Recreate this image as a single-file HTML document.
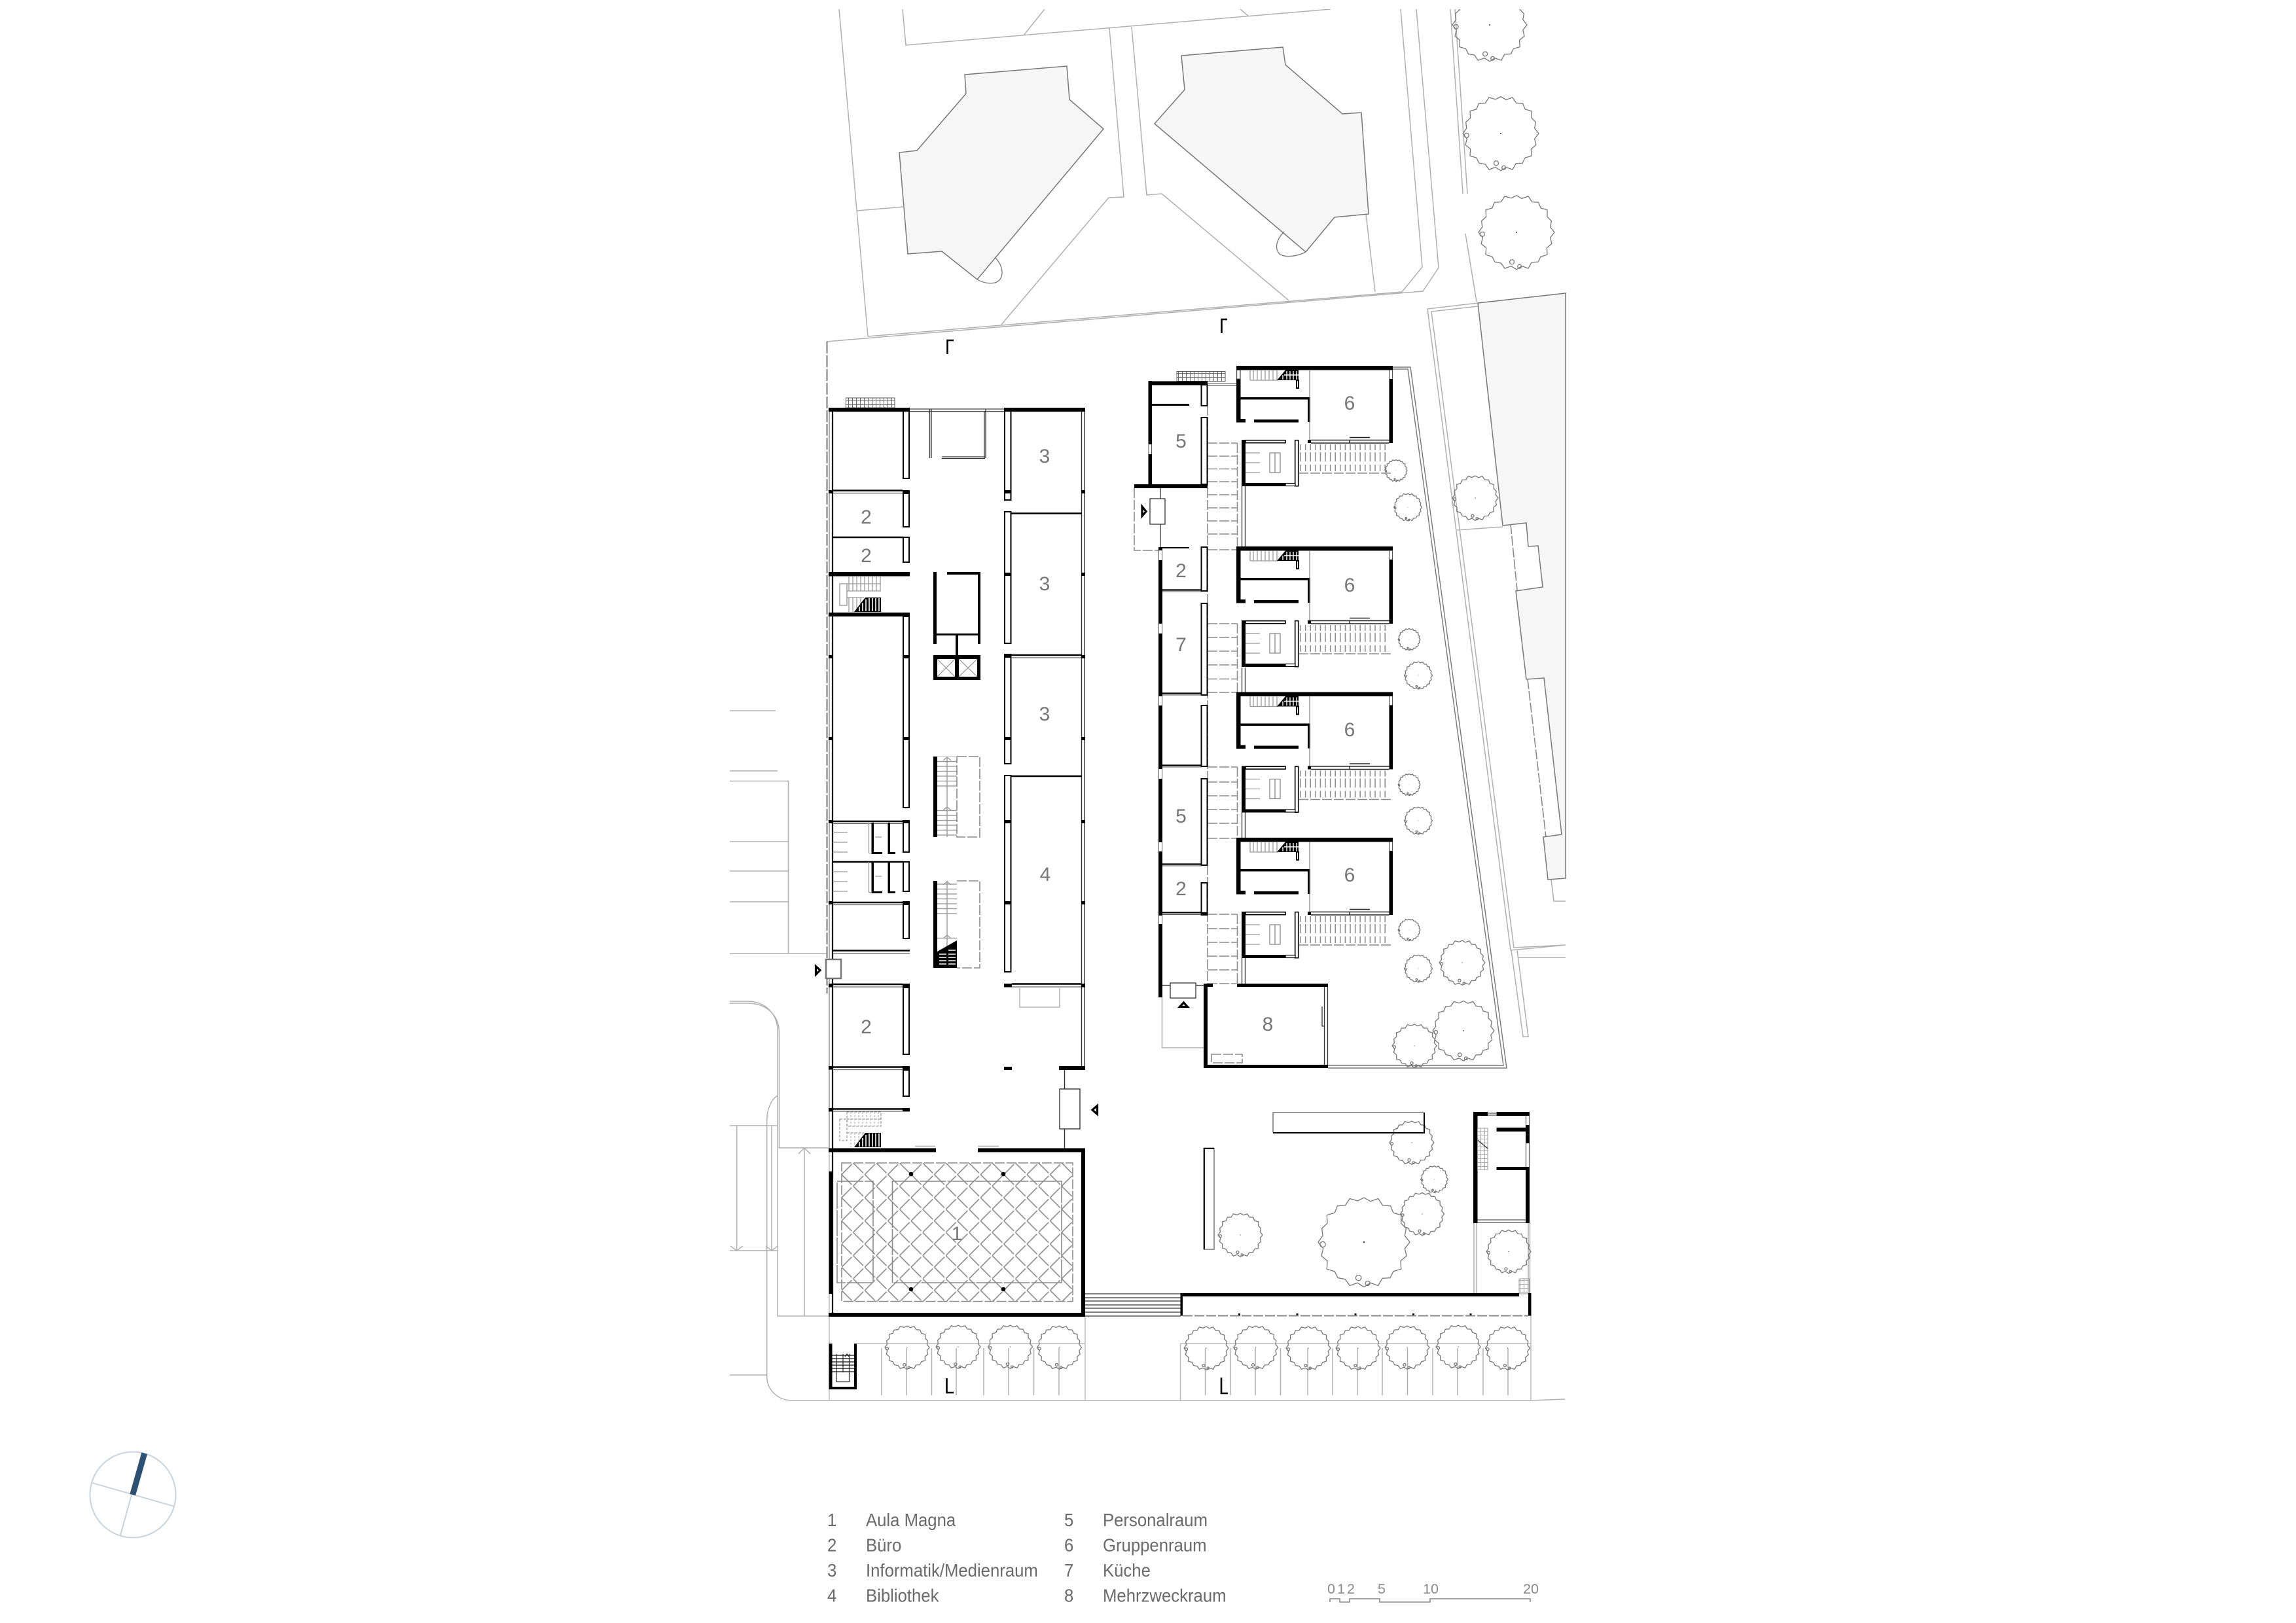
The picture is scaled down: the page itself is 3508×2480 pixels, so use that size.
<!DOCTYPE html>
<html lang="de"><head><meta charset="utf-8"><title>Grundriss</title>
<style>
html,body{margin:0;padding:0;background:#fff}
svg{display:block}
text{font-family:"Liberation Sans",sans-serif}
.l{fill:none;stroke:#b0b0b0;stroke-width:1.5}
.d{fill:none;stroke:#777;stroke-width:1.5}
.ds{fill:none;stroke:#8a8a8a;stroke-width:1.6;stroke-dasharray:15 3}
.b{fill:#fff;stroke:#000;stroke-width:2}
.n{fill:#777;font-size:30px;text-anchor:middle}
.lg{fill:#6a6a6a;font-size:27.5px}
.sc{fill:#8a8a8a;font-size:21.5px;text-anchor:middle}
.tr{fill:none;stroke:#777;stroke-width:1.3;stroke-linejoin:round}
</style></head><body>
<svg xmlns="http://www.w3.org/2000/svg" width="3508" height="2480" viewBox="0 0 3508 2480">
<defs>
<pattern id="v6" width="6" height="10" patternUnits="userSpaceOnUse"><path d="M1 0V10" stroke="#999" stroke-width="1.3"/></pattern>
<pattern id="h8" width="10" height="7.5" patternUnits="userSpaceOnUse"><path d="M0 1H10" stroke="#999" stroke-width="1.4"/></pattern>
<pattern id="h5" width="10" height="5" patternUnits="userSpaceOnUse"><path d="M0 1H10" stroke="#000" stroke-width="1.2"/></pattern>
<pattern id="v76" width="7.6" height="10" x="1984" patternUnits="userSpaceOnUse"><path d="M3 0V10" stroke="#888" stroke-width="1.5"/></pattern>
<pattern id="gr" width="6" height="6" patternUnits="userSpaceOnUse"><path d="M0 .5H6M.5 0V6" stroke="#666" stroke-width="1" fill="none"/></pattern>
<pattern id="gg" width="6" height="6" patternUnits="userSpaceOnUse"><path d="M0 .5H6M.5 0V6" stroke="#aaa" stroke-width="1" fill="none"/></pattern>
<pattern id="lat" x="1303.5" y="1777" width="35.4" height="35.4" patternUnits="userSpaceOnUse"><path d="M0 0L35.4 35.4M0 35.4L35.4 0" stroke="#8a8a8a" stroke-width="1.6" fill="none" stroke-dasharray="22 3"/></pattern>
<g id="t"><path class="tr" vector-effect="non-scaling-stroke" d="M100 0L89 14 93 30 80 41 81 59 64 64 57 78 40 79 31 95 14 89 0 98-14 89-31 95-41 81-57 78-64 64-81 59-80 41-93 30-89 14-100 0-90-14-92-30-80-41-81-59-64-64-58-79-41-80-31-95-14-90 0-97 14-89 31-95 41-80 58-79 64-64 81-59 81-41 92-30 89-14Z"/><circle class="tr" vector-effect="non-scaling-stroke" cx="-12" cy="78" r="6"/><circle class="tr" vector-effect="non-scaling-stroke" cx="8" cy="90" r="5"/><circle class="tr" vector-effect="non-scaling-stroke" cx="-90" cy="5" r="6"/><circle r="2" fill="#555"/></g>

<g id="stb">
<path d="M1305 935L1322 913H1346V935Z" fill="#000"/>
<path d="M1323 916V934M1328 914V934M1333 914V934M1338 914V934M1343 914V934M1318 921V934M1313 927V934" stroke="#fff" stroke-width="1.600"/>
</g>

<g id="u">
<path fill="#000" d="M1889 559h239v6.5h-239zM1889 559h6.5v86h-6.5zM1889 640h14v5.500h-14zM2122.500 579h5.500v98h-5.500zM1895 607h107v3.500h-107zM1998 607h4v38h-4zM1916 641h68v4.500h-68zM1897 672h6v71h-6zM1897 738h67v5h-67zM1998 672h5v5h-5z"/>
<rect x="1903" y="672.700" width="61" height="4" fill="#fff" stroke="#000" stroke-width="1.600"/>
<rect x="1978.700" y="672.700" width="5" height="70" fill="#fff" stroke="#000" stroke-width="1.600"/>
<rect x="1964" y="738.500" width="15" height="4" fill="#fff" stroke="#000" stroke-width="1.200"/>
<path d="M2122.800 565V579M2127.500 565V579" stroke="#555" stroke-width="1.200"/>
<path d="M2001 565V672" stroke="#777" stroke-width="1.100"/>
<path d="M2003 672.500H2122.500M2003 677H2122.500M2062 672V677M2062 668.500H2093" stroke="#222" stroke-width="1.400"/>
<path d="M1903 692H1925M1903 707H1925M1903 722H1925" stroke="#999" stroke-width="1.300"/>
<path d="M1940 692h16v30h-16zM1948 692v30" fill="none" stroke="#888" stroke-width="1.300"/>
<rect x="1910" y="566" width="43" height="15" fill="url(#v6)"/>
<path d="M1910 581H1953M1910 566V581" stroke="#999" stroke-width="1.300"/>
<path d="M1951 581L1964 565.500H1984V581Z" fill="#000"/>
<path d="M1966 567V580M1971 567V580M1976 567V580M1981 567V580M1960 573V580M1962 573H1984" stroke="#fff" stroke-width="1.400"/>
<rect x="1981" y="581" width="3" height="12" class="b" stroke-width="1.200"/>
<rect x="1984" y="679" width="139" height="9" fill="url(#v76)"/>
<rect x="1984" y="691" width="139" height="14" fill="url(#v76)"/>
<rect x="1984" y="710" width="139" height="10" fill="url(#v76)"/>
<path d="M1984 723H2125" class="ds"/>
</g>

<g id="wc">
<path fill="#000" d="M1331.500 1257h3.500v45h13v3h-16.500zM1356.500 1257h3.500v45h8v3h-11.500z"/>
<path d="M1327.500 1257V1303.500H1332M1337 1279H1347M1272 1272H1295M1272 1287H1295M1272 1302H1295" stroke="#999" stroke-width="1.200" fill="none"/>
</g>
</defs>

<!-- neighbouring buildings -->
<g fill="#f6f6f6" stroke="#777" stroke-width="1.500">
<path d="M1474 114L1630 101 1634 152 1686 197 1493 427 1439 384 1387 388 1374 233 1401 230 1476 143Z" fill="#f6f6f6"/>
<path d="M1805 85L1960 72 1964 99 2051 174 2080 172 2091 327 2039 332 1995 385 1764 189 1810 137Z"/>
<path d="M2258 463L2392 448V1342L2365 1344 2358 1279 2386 1275 2359 1036 2332 1038 2316 903 2357 897 2350 834 2335 835 2332 799 2296 803Z"/>
</g>
<path d="M2308 801L2318 902M2334 1038L2362 1279" class="ds" stroke="#666"/>
<path d="M1520 393C1532 405 1534 420 1527 428 1520 435 1505 434 1493 427M1962 354C1950 366 1947 380 1955 388 1963 394 1982 392 1995 385" fill="none" stroke="#777" stroke-width="1.300"/>

<!-- site lines -->
<g class="l">
<path d="M1282 14L1326 514M1379 14L1384 69 2033 14M1596 14L1564 54M1895 14L1908 25"/>
<path d="M1695 43L1717 301 1694 302 1530 496M1729 41L1752 298 1775 296 1969 459"/>
<path d="M2140 14L2173 408 2142 446 1326 514M2164 14L2198 409 2174 445 1263 522M2101 446L2087 328M1309 322L1381 316"/>
<path d="M2216 14L2235 296M2223 14L2242 296M2239 357L2256 461"/>
<path d="M2258 463L2181 472 2308 1452 2392 1444M2258 468L2187 476 2313 1448 2392 1444M2226 810L2296 805M2320 1463H2392"/>
<path d="M2309 1452L2327 1584H2335L2318 1452M2370 1344L2374 1377H2392"/>
<path d="M1115 1086H1185M1115 1178H1188M1115 1193.500H1204.500V1457M1115 1286H1204.500M1115 1331H1204.500M1115 1378H1204.500M1115 1457H1264"/>
<path d="M1115 1530H1142C1170 1530 1188 1550 1188 1575V2011H1266M1115 1533H1142C1172 1533 1190.500 1552 1190.500 1578V1754H1266"/>
<path d="M1188 1674C1178 1680 1172 1695 1171.700 1711V2104C1172 2125 1190 2140 1210 2140H2339L2391 2138M1115 1720H1188M1115 1911H1188M1115 2101H1171"/>
<path d="M1125.700 1720V1911M1116 1904L1125.700 1911 1135 1904M1179 1720V1911M1170 1904L1179 1911 1188 1904M1229 1754V2011M1220 1763L1229 1754 1238 1763" />
<path d="M1267 1760V2140M1658 2012V2140M1309 2053H1658M1803.500 2053H2339M1803.500 2053V2140M2339 2010V2140" stroke="#bbb"/>
<path d="M1347 2060V2132M1385 2060V2132M1423.500 2060V2132M1461 2060V2132M1503 2060V2132M1541 2060V2132M1579.500 2060V2132M1618 2060V2132M1841.500 2060V2132M1880 2060V2132M1918 2060V2132M1956.500 2060V2132M1998 2060V2132M2036 2060V2132M2074 2060V2132M2112 2060V2132M2150.500 2060V2132M2189 2060V2132M2227 2060V2132M2266 2060V2132M2304 2060V2132"/>
<path d="M2252 1869V1977M2256 1869V1977M2335 1869V1977M2337.500 1869V1977"/>
<path d="M1775.500 1524V1601H1839M1558 1510V1539H1619V1510M1398 1751.500H1429M1494 1751.500H1526"/>
</g>
<path d="M2128 561H2155L2302 1632H2029M2128 564H2151L2297 1628H2029" fill="none" stroke="#777" stroke-width="1.400"/>
<path d="M1263.500 522V1518" fill="none" stroke="#999" stroke-width="2.500" stroke-dasharray="18 3"/>
<path d="M1267 628V1760" stroke="#888" stroke-width="1.400"/>

<!-- trees -->
<use href="#t" transform="translate(2276 38) scale(.57)"/>
<use href="#t" transform="translate(2293 204) scale(.58)"/>
<use href="#t" transform="translate(2317 355) scale(.58)"/>
<use href="#t" transform="translate(2254 761) scale(.35)"/>
<use href="#t" transform="translate(2133 719) scale(.17)"/>
<use href="#t" transform="translate(2151 775) scale(.215)"/>
<use href="#t" transform="translate(2153 977) scale(.17)"/>
<use href="#t" transform="translate(2167 1032) scale(.215)"/>
<use href="#t" transform="translate(2153 1199) scale(.17)"/>
<use href="#t" transform="translate(2167 1254) scale(.215)"/>
<use href="#t" transform="translate(2153 1421) scale(.17)"/>
<use href="#t" transform="translate(2167 1480) scale(.215)"/>
<use href="#t" transform="translate(2234 1471) scale(.35)"/>
<use href="#t" transform="translate(2161 1598) scale(.34)"/>
<use href="#t" transform="translate(2236 1575) scale(.47)"/>
<use href="#t" transform="translate(1895 1887) scale(.34)"/>
<use href="#t" transform="translate(2084 1898) scale(.7)"/>
<use href="#t" transform="translate(2173 1855) scale(.335)"/>
<use href="#t" transform="translate(2191.500 1802) scale(.21)"/>
<use href="#t" transform="translate(2157 1746) scale(.34)"/>
<use href="#t" transform="translate(2305 1912.500) scale(.34)"/>
<use href="#t" transform="translate(1386 2059) scale(.34)"/>
<use href="#t" transform="translate(1464 2058) scale(.34)"/>
<use href="#t" transform="translate(1543.500 2058) scale(.34)"/>
<use href="#t" transform="translate(1618.500 2059) scale(.34)"/>
<use href="#t" transform="translate(1843 2060) scale(.34)"/>
<use href="#t" transform="translate(1918.600 2059) scale(.34)"/>
<use href="#t" transform="translate(1999 2060) scale(.34)"/>
<use href="#t" transform="translate(2075 2060) scale(.34)"/>
<use href="#t" transform="translate(2150 2059) scale(.34)"/>
<use href="#t" transform="translate(2228 2058) scale(.34)"/>
<use href="#t" transform="translate(2303.500 2060) scale(.34)"/>

<!-- left building -->
<path d="M1272 623V2006" stroke="#000" stroke-width="2.200"/>
<path d="M1390 625H1534M1390 628.500H1534" stroke="#444" stroke-width="1.200"/>
<path d="M1420.500 625V700M1423 625V700M1504 628V700M1506 625V700M1439 698H1505M1439 700.500H1505" stroke="#333" stroke-width="1.300"/>
<path d="M1652.500 628V1630M1657 628V1630" stroke="#333" stroke-width="1.400"/>
<g class="b">
<rect x="1380" y="628" width="9" height="103"/><rect x="1380" y="754" width="9" height="51"/><rect x="1380" y="821" width="9" height="38"/><rect x="1380" y="942" width="9" height="292"/><rect x="1380" y="1257" width="9" height="45"/><rect x="1380" y="1317" width="9" height="45"/><rect x="1380" y="1382" width="9" height="52"/><rect x="1380" y="1509" width="9" height="102"/><rect x="1380" y="1635" width="9" height="40"/>
<rect x="1535" y="628" width="9.500" height="136"/><rect x="1535" y="782" width="9.500" height="201"/><rect x="1535" y="1000" width="9.500" height="167"/><rect x="1535" y="1185" width="9.500" height="300"/>
</g>
<g stroke="#000" stroke-width="2.500"><path d="M1272 749.500H1379M1272 821H1380M1272 1255H1379M1272 1317H1380M1272 1379H1379M1272 1452.500H1390M1272 1504H1379M1272 1630.500H1379M1272 1694.500H1379M1545 784.500H1653M1545 1186H1653M1545 1001H1653M1546 1503.500H1652"/></g>
<path d="M1272 753.500H1379M1272 1258.500H1379M1272 1382.500H1379M1272 1457H1390M1272 1508H1379M1272 1634.500H1379M1272 1698H1379M1545 1005H1653M1546 1508H1652" stroke="#666" stroke-width="1.200"/>
<path fill="#000" d="M1266 623h124v6h-124zM1534 623h124v6h-124zM1266 874h124v6.500h-124zM1266 936h124v6h-124zM1266 749h6v5h-6zM1379 749h11v5h-11zM1266 1001h6v5h-6zM1379 1001h11v5h-11zM1266 1126h6v5h-6zM1379 1126h11v5h-11zM1266 1253h6v5h-6zM1379 1253h11v5h-11zM1266 1377h6v5h-6zM1379 1377h11v5h-11zM1266 1503h6v5.500h-6zM1379 1503h11v5.500h-11zM1266 1629h6v5.500h-6zM1379 1629h11v5.500h-11zM1266 1693h6v5.500h-6zM1379 1693h11v5.500h-11zM1534 749h11v5h-11zM1534 875h11v5h-11zM1534 1000h11v5h-11zM1534 1126h11v5h-11zM1534 1253h11v5h-11zM1534 1377h11v5h-11zM1652 749h6v5h-6zM1652 875h6v5h-6zM1652 1001h6v5h-6zM1652 1126h6v5h-6zM1652 1253h6v5h-6zM1652 1377h6v5h-6zM1652 1503h6v5.500h-6zM1534 1503h12v5.500h-12zM1534 1630h12v5h-12zM1618 1629h40v6h-40z"/>
<!-- upper west stair -->
<rect x="1283" y="892" width="11" height="33" fill="none" stroke="#999" stroke-width="1.400"/>
<rect x="1294" y="881" width="52" height="22" fill="url(#v6)"/>
<rect x="1294" y="913" width="26" height="22" fill="url(#v6)"/>
<path d="M1294 892H1346M1294 903H1346M1294 913H1320" stroke="#999" stroke-width="1.200"/>
<use href="#stb"/>
<!-- lower west stair -->
<rect x="1283" y="1710" width="11" height="33" fill="none" stroke="#999" stroke-width="1.200" stroke-dasharray="4 2"/>
<path d="M1294 1699H1346V1721H1294ZM1294 1710H1346M1294 1731H1320" fill="none" stroke="#888" stroke-width="1.100" stroke-dasharray="4 2"/>
<path d="M1300 1699V1721M1306 1699V1721M1312 1699V1721M1318 1699V1721M1324 1699V1721M1330 1699V1721M1336 1699V1721M1342 1699V1721M1300 1731V1753M1306 1731V1753M1312 1731V1753M1318 1731V1740" stroke="#aaa" stroke-width="1" stroke-dasharray="3 2"/>
<use href="#stb" transform="translate(0 818)"/>
<use href="#wc"/><use href="#wc" transform="translate(0 60)"/>

<!-- core -->
<path fill="#000" d="M1426 874h5v110h-5zM1447 874h51v4h-51zM1494 874h4v110h-4zM1431 968h63v3h-63zM1460 970h4v31h-4z"/>
<path fill="#000" d="M1426 1001h72v38h-72z"/>
<rect x="1432" y="1007" width="27" height="27" fill="#fff"/><rect x="1465" y="1007" width="28" height="27" fill="#fff"/>
<path d="M1432 1007L1459 1034M1459 1007L1432 1034M1465 1007L1493 1034M1493 1007L1465 1034" stroke="#888" stroke-width="1"/>
<!-- core stairs -->
<path fill="#000" d="M1426 1156h6v123h-6zM1426 1346h6v133h-6z"/>
<rect x="1432" y="1156" width="30" height="47" fill="url(#h8)"/><rect x="1432" y="1232" width="30" height="47" fill="url(#h8)"/>
<rect x="1432" y="1346" width="30" height="53" fill="url(#h8)"/><rect x="1432" y="1428" width="30" height="10" fill="url(#h8)"/>
<path d="M1447 1156V1279M1447 1346V1479" stroke="#999" stroke-width="1.400"/>
<path d="M1432 1454L1462 1437V1479H1432Z" fill="#000"/>
<path d="M1435 1458H1446M1449 1452H1460M1449 1458H1460M1435 1463H1446M1449 1463H1460M1435 1468H1446M1449 1468H1460M1435 1473H1446M1449 1473H1460" stroke="#fff" stroke-width="1.400"/>
<path d="M1462 1156H1497V1279H1462V1156M1462 1346H1497V1479H1462" class="ds"/>
<path d="M1441 1162L1447 1157 1453 1162M1441 1238L1447 1233 1453 1238M1441 1352L1447 1347 1453 1352M1441 1434L1447 1429 1453 1434" fill="none" stroke="#999" stroke-width="1.300"/>

<!-- doors left building -->
<rect x="1262" y="1466" width="23" height="29" fill="#fff" stroke="#777" stroke-width="2.500"/>
<path d="M1246.500 1476.500L1253 1482.500 1246.500 1489Z" fill="#fff" stroke="#000" stroke-width="3.200"/>
<rect x="1619" y="1664" width="31" height="61" fill="#fff" stroke="#333" stroke-width="1.400"/>
<path d="M1626.500 1635V1664M1626.500 1725V1757" stroke="#333" stroke-width="1.400"/>
<path d="M1676.500 1689.500L1669 1696 1676.500 1702.500Z" fill="#fff" stroke="#000" stroke-width="3.200"/>

<!-- Aula -->
<rect x="1286" y="1777" width="353" height="211.500" fill="url(#lat)"/>
<rect x="1286" y="1777" width="353" height="211.500" class="ds"/>
<path d="M1279 1805h55v155h-55zM1363.500 1805h258.500v155h-258.500z" fill="none" stroke="#8a8a8a" stroke-width="1.600" stroke-dasharray="40 2"/>
<circle cx="1392" cy="1794" r="3.300"/><circle cx="1533" cy="1794" r="3.300"/><circle cx="1392" cy="1970" r="3.300"/><circle cx="1533" cy="1970" r="3.300"/>
<path fill="#000" d="M1266 1754.500h164v6h-164zM1494 1754.500h164v6h-164zM1652 1757h6v255h-6zM1266 2006h392v6h-392zM1266.500 1790h5.500v187h-5.500z"/>
<path d="M1658 1977H1804M1658 1983H1804M1658 1988H1804M1658 1994H1804M1658 1999H1804M1658 2005H1804M1658 2011H1804" stroke="#333" stroke-width="1.300"/>

<!-- ext stair tops -->
<rect x="1292.500" y="608" width="74.500" height="15" fill="url(#gr)" stroke="#555" stroke-width="1"/>
<rect x="1798" y="567.500" width="74" height="15" fill="url(#gr)" stroke="#555" stroke-width="1"/>

<!-- right building: corridors -->
<path d="M1845 620V1503M1890.500 677V840M1890.500 953V1058M1890.500 1172V1281M1890.500 1397V1503" class="ds"/>
<path class="ds" d="M1845 677H1890.500M1845 697H1890.500M1845 716.500H1890.500M1845 736H1890.500M1845 756H1890.500M1845 776H1890.500M1845 796H1890.500M1845 816H1890.500M1845 840H1890.500M1845 953H1890.500M1845 974H1890.500M1845 995H1890.500M1845 1016H1890.500M1845 1037.500H1890.500M1845 1058H1890.500M1845 1172H1890.500M1845 1195H1890.500M1845 1216H1890.500M1845 1237H1890.500M1845 1258H1890.500M1845 1281H1890.500M1845 1397H1890.500M1845 1419H1890.500M1845 1440H1890.500M1845 1461H1890.500M1845 1482H1890.500M1845 1503H1890.500"/>
<path d="M1897.500 743V835M1902.500 743V835M1897.500 1020V1058M1902.500 1020V1058M1897.500 1241V1280M1902.500 1241V1280M1897.500 1464V1503M1902.500 1464V1503" stroke="#444" stroke-width="1.400"/>
<!-- entrance dashed -->
<path d="M1733 746V841H1770" fill="none" stroke="#888" stroke-width="1.500" stroke-dasharray="15 3"/>
<rect x="1757" y="762" width="23" height="39" fill="#fff" stroke="#333" stroke-width="1.300"/>
<path d="M1773 746V762M1773 801V838" stroke="#333" stroke-width="1.300"/>
<path d="M1745 774L1751 781.500 1745 788.500Z" fill="#fff" stroke="#000" stroke-width="3.200"/>

<!-- west wing of right building -->
<path fill="#000" d="M1754.500 582.500h90.500v6h-90.500zM1754.500 582h5.500v97h-5.500zM1754.500 694h5.500v46h-5.500zM1760 617h57v3h-57zM1733 740h112v6h-112zM1770 836h6v5h-6zM1776 836h41v2h-41zM1770 856h6v97h-6zM1770 968h6v96h-6zM1770 1078h6v97h-6zM1770 1190h6v97h-6zM1770 1301h6v98h-6zM1770 1412h6v112h-6z"/>
<path d="M1755 679V694M1759.500 679V694M1770.500 841V856M1775.500 841V856M1770.500 953V968M1775.500 953V968M1770.500 1064V1078M1775.500 1064V1078M1770.500 1175V1190M1775.500 1175V1190M1770.500 1287V1301M1775.500 1287V1301M1770.500 1399V1412M1775.500 1399V1412" stroke="#555" stroke-width="1"/>
<g class="b" stroke-width="1.800">
<rect x="1835.500" y="588" width="9" height="32"/><rect x="1835.500" y="638" width="9" height="102"/><rect x="1835.500" y="836" width="9" height="67"/><rect x="1835.500" y="922" width="9" height="140"/><rect x="1835.500" y="1078" width="9" height="93"/><rect x="1835.500" y="1190" width="9" height="132"/><rect x="1835.500" y="1349" width="9" height="49"/>
</g>
<path d="M1776 901.500H1836M1776 1059.500H1836M1776 1169.500H1836M1776 1320.500H1836M1776 1394.500H1836" stroke="#000" stroke-width="2.200"/>
<path d="M1776 904H1836M1776 1062H1836M1776 1172H1836M1776 1323H1836M1776 1397.500H1836M1845 585.500H1889M1845 589.500H1889" stroke="#555" stroke-width="1.100"/>
<rect x="1835" y="1394" width="10" height="5" fill="#000"/>

<!-- units -->
<use href="#u"/><use href="#u" transform="translate(0 276)"/><use href="#u" transform="translate(0 498.500)"/><use href="#u" transform="translate(0 721)"/>
<rect x="1889.700" y="565.500" width="5" height="13.500" fill="#fff" stroke="#555" stroke-width="1"/>

<!-- lower entrance + room 8 -->
<rect x="1788" y="1502" width="39" height="23" fill="#fff" stroke="#333" stroke-width="1.300"/>
<path d="M1776 1505.500H1788M1827 1505.500H1840" stroke="#333" stroke-width="1.300"/>
<path d="M1802.500 1538.500L1808.500 1532 1814.500 1538.500Z" fill="#fff" stroke="#000" stroke-width="3.200"/>
<path fill="#000" d="M1839 1503h14v5h-14zM1839 1503h6v129h-6zM1890 1503h139v5h-139zM1839 1627h190v5h-190z"/>
<path d="M2023.500 1508V1627M2028.500 1508V1627M2020 1538V1568H2023" fill="none" stroke="#333" stroke-width="1.300"/>
<rect x="1851" y="1611" width="47" height="13" class="ds" stroke-width="1.400"/>

<!-- courtyard elements -->
<path d="M1945 1731V1700H2175" class="d" fill="none"/>
<path d="M1945 1731H2176V1700" fill="none" stroke="#000" stroke-width="2"/>
<path d="M1855 1754V1909H1839" class="d" fill="none"/>
<path d="M1839.800 1909V1754.800H1855" fill="none" stroke="#000" stroke-width="2.200"/>

<!-- small building -->
<path fill="#000" d="M2251 1699h22v6h-22zM2286.500 1699h50.500v6h-50.500zM2251 1699h6.500v170h-6.500zM2331 1719h6v28h-6zM2331 1783h6v86h-6zM2286.500 1723h44.500v6h-44.500zM2286.500 1783h44.500v5h-44.500z"/>
<path d="M2273 1701H2287M2273 1704H2287M2257.500 1864H2331M2257.500 1868H2331M2331.500 1705V1719M2336.500 1705V1719M2331.500 1747V1783M2336.500 1747V1783" stroke="#555" stroke-width="1.200"/>
<rect x="2257.500" y="1724" width="15.500" height="63" fill="url(#gg)" stroke="#999" stroke-width="1"/>
<path d="M2257.500 1742L2273 1755" stroke="#333" stroke-width="1.200"/>
<rect x="2321" y="1954" width="15.500" height="23" fill="url(#gg)" stroke="#999" stroke-width="1"/>

<!-- south long wall -->
<path fill="#000" d="M1803.500 1976h517.500v5h-517.500zM1803.500 1976h3.500v34.500h-3.500zM2335 1976h4.500v34.500h-4.500zM1892 2007h3v4h-3zM1980.500 2007h3v4h-3zM2069.500 2007h3v4h-3zM2158 2007h3v4h-3zM2245.500 2007h3v4h-3z"/>
<path d="M1807 2010.500H2335" fill="none" stroke="#888" stroke-width="2" stroke-dasharray="15 3"/>

<!-- bunker stair -->
<rect x="1271.500" y="2069" width="33.500" height="28" fill="url(#h5)"/>
<path d="M1278 2069V2111.500H1297.500V2069M1288 2069V2097M1291 2073L1294 2069 1297 2073" fill="none" stroke="#222" stroke-width="1.200"/>
<path fill="#000" d="M1266.500 2053h5v70h-5zM1305 2053h4v70h-4zM1266.500 2119h42.500v4h-42.500z"/>

<!-- section marks -->
<path d="M1447.500 541V520H1457M1866.500 509V488H1875M1446.500 2106V2128H1457M1866 2105V2129H1876" fill="none" stroke="#000" stroke-width="2.600"/>

<!-- room numbers -->
<text class="n" x="1596" y="707">3</text><text class="n" x="1596" y="902">3</text><text class="n" x="1596" y="1101">3</text><text class="n" x="1597" y="1346">4</text>
<text class="n" x="1323.500" y="800">2</text><text class="n" x="1323.500" y="859">2</text><text class="n" x="1323.500" y="1579">2</text>
<text class="n" x="1462" y="1895">1</text>
<text class="n" x="1804.500" y="684">5</text><text class="n" x="1804.500" y="882">2</text><text class="n" x="1804.500" y="995">7</text><text class="n" x="1804.500" y="1257">5</text><text class="n" x="1804.500" y="1368">2</text>
<text class="n" x="1937" y="1575">8</text>
<text class="n" x="2062" y="626">6</text><text class="n" x="2062" y="904">6</text><text class="n" x="2062" y="1125">6</text><text class="n" x="2062" y="1347">6</text>

<!-- top crop -->
<rect x="1100" y="0" width="1400" height="14" fill="#fff"/>

<!-- north arrow -->
<circle cx="203" cy="2284" r="65.500" fill="none" stroke="#c9d3dc" stroke-width="2"/>
<path d="M140 2265.700L266 2301.700M201 2284L184 2345.700" stroke="#c9d3dc" stroke-width="2"/>
<path d="M220.700 2220.700L202.700 2284" stroke="#2c5173" stroke-width="9"/>

<!-- legend -->
<g class="lg">
<text transform="translate(1264 2332) scale(.935 1)">1</text><text transform="translate(1323 2332) scale(.935 1)">Aula Magna</text>
<text transform="translate(1264 2370.500) scale(.935 1)">2</text><text transform="translate(1323 2370.500) scale(.935 1)">Büro</text>
<text transform="translate(1264 2409) scale(.935 1)">3</text><text transform="translate(1323 2409) scale(.935 1)">Informatik/Medienraum</text>
<text transform="translate(1264 2447.500) scale(.935 1)">4</text><text transform="translate(1323 2447.500) scale(.935 1)">Bibliothek</text>
<text transform="translate(1626 2332) scale(.935 1)">5</text><text transform="translate(1685 2332) scale(.935 1)">Personalraum</text>
<text transform="translate(1626 2370.500) scale(.935 1)">6</text><text transform="translate(1685 2370.500) scale(.935 1)">Gruppenraum</text>
<text transform="translate(1626 2409) scale(.935 1)">7</text><text transform="translate(1685 2409) scale(.935 1)">Küche</text>
<text transform="translate(1626 2447.500) scale(.935 1)">8</text><text transform="translate(1685 2447.500) scale(.935 1)">Mehrzweckraum</text>
</g>
<!-- scale -->
<g class="sc"><text x="2034" y="2435">0</text><text x="2049" y="2435">1</text><text x="2064" y="2435">2</text><text x="2111" y="2435">5</text><text x="2186" y="2435">10</text><text x="2339" y="2435">20</text></g>
<path d="M2032 2448V2443H2047V2448H2062V2443H2108V2448H2185V2443H2338V2448" fill="none" stroke="#888" stroke-width="1.600"/>
</svg>
</body></html>
